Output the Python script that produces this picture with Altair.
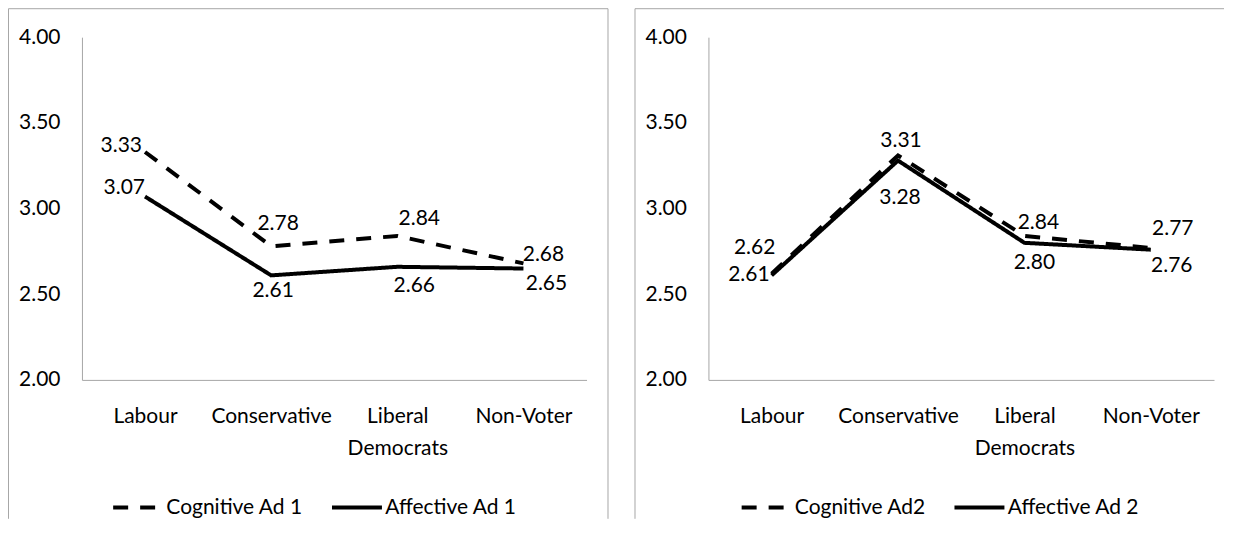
import altair as alt
import pandas as pd

categories = ["Labour", "Conservative", "Liberal Democrats", "Non-Voter"]
y_ticks = [2.0, 2.5, 3.0, 3.5, 4.0]

series_left = ["Cognitive Ad 1", "Affective Ad 1"]
cognitive_ad1 = [3.33, 2.78, 2.84, 2.68]
affective_ad1 = [3.07, 2.61, 2.66, 2.65]

series_right = ["Cognitive Ad2", "Affective Ad 2"]
cognitive_ad2 = [2.62, 3.31, 2.84, 2.77]
affective_ad2 = [2.61, 3.28, 2.80, 2.76]

FONT = "Lato"
FS = 21
GREY = "#a6a6a6"

# label placement (dx, dy, align), indexed by [series][category]
place_left = [
    [(-3, -6, "right"), (7, -22, "center"), (22, -17, "center"), (20, -8, "center")],
    [(0, -9, "right"), (2, 16, "center"), (17, 19, "center"), (23, 15, "center")],
]
place_right = [
    [(-17, -26, "center"), (3, -14, "center"), (14, -13, "center"), (22, -19, "center")],
    [(-2, 0, "right"), (2, 37, "center"), (10, 20, "center"), (21, 16, "center")],
]

# legend symbol: a 50px stroke drawn from a small symbol size so the row stays short
LEGEND_SYMBOL = "M-1,0H7"


def panel(names, values, places, width, legend_x, right_frame):
    rows = []
    for s, vals in zip(names, values):
        for c, v in zip(categories, vals):
            rows.append({"category": c, "series": s, "value": v})
    df = pd.DataFrame(rows)

    x = alt.X("category:N", sort=categories,
              scale=alt.Scale(type="point", padding=0.5),
              axis=alt.Axis(title=None, labelAngle=0, ticks=False, labelPadding=26,
                            labelBaseline="top", labelLineHeight=32,
                            labelExpr="datum.label == 'Liberal Democrats' ? ['Liberal', 'Democrats'] : datum.label"))
    y = alt.Y("value:Q", scale=alt.Scale(domain=[2, 4], nice=False, zero=False),
              axis=alt.Axis(title=None, values=y_ticks, format=".2f", ticks=False,
                            labelPadding=22, grid=False))
    dash = alt.StrokeDash("series:N", sort=names,
                          scale=alt.Scale(domain=names, range=[[15, 12], [1, 0]]),
                          legend=alt.Legend(title=None, orient="none", legendX=legend_x,
                                            legendY=460, direction="horizontal",
                                            symbolType=LEGEND_SYMBOL, symbolSize=156.25,
                                            symbolStrokeWidth=4, symbolStrokeColor="black",
                                            symbolFillColor="transparent",
                                            labelFont=FONT, labelFontSize=FS,
                                            labelColor="black", columnPadding=20,
                                            labelOffset=36.5))
    layers = []
    for s in names:
        layers.append(
            alt.Chart(df).transform_filter(alt.datum.series == s)
            .mark_line(color="black", strokeWidth=4, strokeCap="butt")
            .encode(x=x, y=y, strokeDash=dash)
        )
    for si, s in enumerate(names):
        for ci, c in enumerate(categories):
            dx, dy, al = places[si][ci]
            layers.append(
                alt.Chart(df)
                .transform_filter((alt.datum.series == s) & (alt.datum.category == c))
                .mark_text(dx=dx, dy=dy, align=al, baseline="middle", font=FONT,
                           fontSize=FS, color="black")
                .encode(x=x, y=y, text=alt.Text("value:Q", format=".2f"))
            )
    one = pd.DataFrame({"k": [0]})
    frame_left = -73.5
    frame_top = -28.5
    frame_bottom = 482
    layers.append(alt.Chart(one).mark_rule(color=GREY, strokeWidth=1).encode(
        x=alt.value(frame_left), y=alt.value(frame_top), y2=alt.value(frame_bottom)))
    layers.append(alt.Chart(one).mark_rule(color=GREY, strokeWidth=1).encode(
        x=alt.value(frame_left), x2=alt.value(width + 21.5 if right_frame else width + 10),
        y=alt.value(frame_top)))
    if right_frame:
        layers.append(alt.Chart(one).mark_rule(color=GREY, strokeWidth=1).encode(
            x=alt.value(width + 21.5), y=alt.value(frame_top), y2=alt.value(frame_bottom)))
    return alt.layer(*layers).properties(width=width, height=343)


left = panel(series_left, [cognitive_ad1, affective_ad1], place_left, 505, 27, True)
right = panel(series_right, [cognitive_ad2, affective_ad2], place_right, 506, 29, False)

chart = (
    alt.hconcat(left, right, spacing=26)
    .resolve_scale(strokeDash="independent")
    .resolve_legend(strokeDash="independent")
    .properties(padding={"left": 0, "top": 0, "right": 0, "bottom": 0})
    .configure_view(stroke=None)
    .configure_axis(domainColor=GREY, domainWidth=1, labelFont=FONT, labelFontSize=FS,
                    labelColor="black", grid=False)
)

chart.save("out.html", embed_options={"renderer": "svg", "actions": False})
